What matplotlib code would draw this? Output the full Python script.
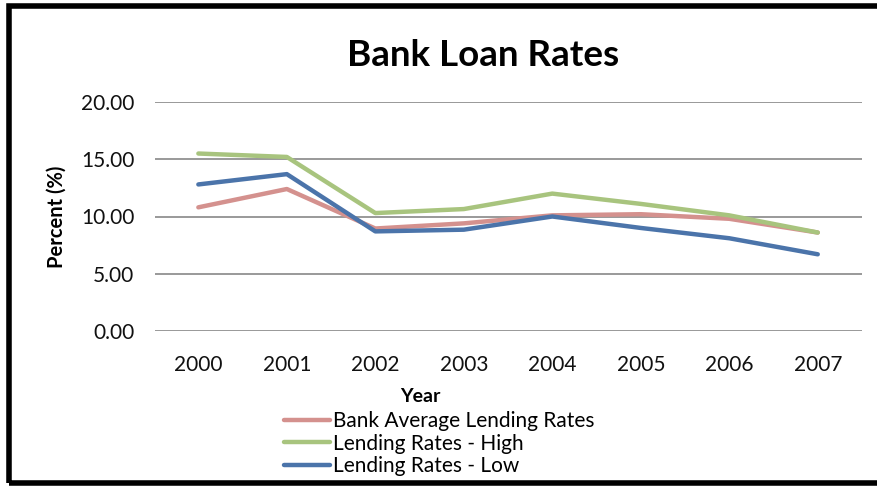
import matplotlib
matplotlib.use("Agg")
import matplotlib.pyplot as plt
from matplotlib.patches import Rectangle

years = ["2000", "2001", "2002", "2003", "2004", "2005", "2006", "2007"]
avg_rates = [10.8, 12.4, 8.95, 9.4, 10.1, 10.2, 9.8, 8.6]
high_rates = [15.5, 15.2, 10.3, 10.65, 12.0, 11.1, 10.1, 8.6]
low_rates = [12.8, 13.7, 8.7, 8.85, 10.0, 9.0, 8.1, 6.7]
series_names = ["Bank Average Lending Rates", "Lending Rates - High", "Lending Rates - Low"]
y_ticks = [0, 5, 10, 15, 20]

plt.rcParams['font.family'] = ['Lato', 'DejaVu Sans']

fig = plt.figure(figsize=(8.78, 4.87), dpi=100)
fig.patch.set_facecolor('white')

# outer black frame (right side runs off the image)
fig.patches.append(Rectangle((9.5/878, 4.5/487), 1.05, 1 - 10/487, transform=fig.transFigure,
                             fill=False, edgecolor='black', linewidth=4, zorder=10))

ax = fig.add_axes([155/878, 1 - 331/487, (862 - 155)/878, (331 - 102)/487])
x = list(range(len(years)))
colors = ['#D4918E', '#A8C47E', '#4B74AA']
for vals, name, c in zip([avg_rates, high_rates, low_rates], series_names, colors):
    ax.plot(x, vals, color=c, linewidth=3.2, label=name, solid_capstyle='round')

ax.set_xlim(-0.49, 7.5)
ax.set_ylim(0, 20)
ax.set_yticks(y_ticks)
ax.set_yticklabels([f"{v:.2f}" for v in y_ticks])
ax.set_xticks(x)
ax.set_xticklabels(years)
ax.grid(axis='y', color='#878787', linewidth=1.2)
ax.set_axisbelow(True)
for s in ax.spines.values():
    s.set_visible(False)
ax.tick_params(axis='both', length=0, labelsize=15, colors='#111111')
ax.tick_params(axis='y', pad=15)
ax.tick_params(axis='x', pad=17)

ax.set_ylabel("Percent (%)", fontsize=14.5, fontweight='bold', labelpad=10)

fig.text(420/878, 1 - 397/487, "Year", ha='center', va='center',
         fontsize=14, fontweight='bold')

fig.text(483/878, 1 - 55/487, "Bank Loan Rates", ha='center', va='center',
         fontsize=26.5, fontweight='bold')

leg = ax.legend(loc='upper left', bbox_to_anchor=(284/878, 1 - 411/487),
                bbox_transform=fig.transFigure, frameon=False, fontsize=15,
                handlelength=2.2, handletextpad=0.15, labelspacing=0.12,
                borderaxespad=0, borderpad=0)

fig.savefig("out.png", dpi=100, facecolor='white')
